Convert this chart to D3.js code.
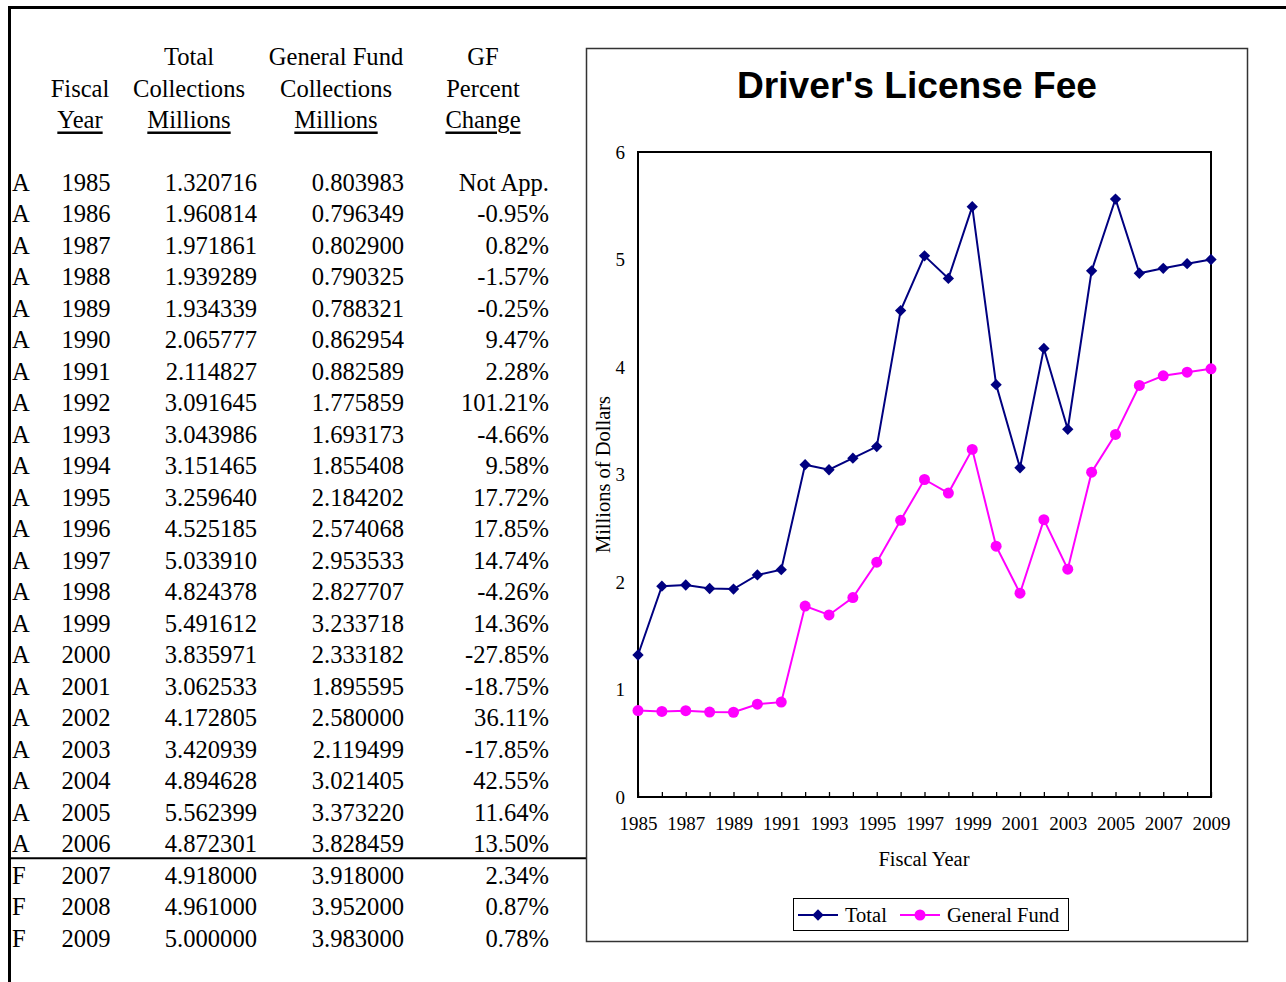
<!DOCTYPE html>
<html>
<head>
<meta charset="utf-8">
<script src="https://cdn.jsdelivr.net/npm/d3@7"></script>
<style>
  body { margin: 0; background: #fff; }
  svg { display: block; }
</style>
</head>
<body>
<svg id="page" width="1286" height="982"></svg>
<script>
const years = [1985, 1986, 1987, 1988, 1989, 1990, 1991, 1992, 1993, 1994, 1995, 1996,
  1997, 1998, 1999, 2000, 2001, 2002, 2003, 2004, 2005, 2006, 2007, 2008, 2009];
const status = ["A", "A", "A", "A", "A", "A", "A", "A", "A", "A", "A", "A",
  "A", "A", "A", "A", "A", "A", "A", "A", "A", "A", "F", "F", "F"];
const totalCollections = [1.320716, 1.960814, 1.971861, 1.939289, 1.934339, 2.065777,
  2.114827, 3.091645, 3.043986, 3.151465, 3.259640, 4.525185, 5.033910, 4.824378,
  5.491612, 3.835971, 3.062533, 4.172805, 3.420939, 4.894628, 5.562399, 4.872301,
  4.918000, 4.961000, 5.000000];
const gfCollections = [0.803983, 0.796349, 0.802900, 0.790325, 0.788321, 0.862954,
  0.882589, 1.775859, 1.693173, 1.855408, 2.184202, 2.574068, 2.953533, 2.827707,
  3.233718, 2.333182, 1.895595, 2.580000, 2.119499, 3.021405, 3.373220, 3.828459,
  3.918000, 3.952000, 3.983000];
const gfPctChange = ["Not App.", "-0.95%", "0.82%", "-1.57%", "-0.25%", "9.47%", "2.28%",
  "101.21%", "-4.66%", "9.58%", "17.72%", "17.85%", "14.74%", "-4.26%", "14.36%",
  "-27.85%", "-18.75%", "36.11%", "-17.85%", "42.55%", "11.64%", "13.50%", "2.34%",
  "0.87%", "0.78%"];
const yTicks = [0, 1, 2, 3, 4, 5, 6];
const xLabelYears = years.filter((y) => (y - 1985) % 2 === 0);

const svg = d3.select("#page");
const serif = "'Liberation Serif', 'Times New Roman', serif";
const sans = "'Liberation Sans', Arial, sans-serif";

// page frame (thick top and left rules)
svg.append("line").attr("x1", 8).attr("x2", 1286).attr("y1", 7.5).attr("y2", 7.5)
  .attr("stroke", "#000").attr("stroke-width", 3);
svg.append("line").attr("x1", 9.5).attr("x2", 9.5).attr("y1", 6).attr("y2", 982)
  .attr("stroke", "#000").attr("stroke-width", 3);

// ---------- table ----------
const table = svg.append("g").attr("font-family", serif).attr("font-size", 24.6).attr("fill", "#000");
const rowY = d3.scaleLinear().domain([0, years.length - 1]).range([182, 938]);

const headers = [
  { x: 80, lines: ["", "Fiscal", "Year"] },
  { x: 189, lines: ["Total", "Collections", "Millions"] },
  { x: 336, lines: ["General Fund", "Collections", "Millions"] },
  { x: 483, lines: ["GF", "Percent", "Change"] },
];
const headY = [56, 88, 119];
headers.forEach((h) => {
  h.lines.forEach((t, i) => {
    if (!t) return;
    table.append("text")
      .attr("x", h.x).attr("y", headY[i])
      .attr("dominant-baseline", "central")
      .attr("text-anchor", "middle")
      .attr("text-decoration", i === 2 ? "underline" : null)
      .text(t);
  });
});

const rows = table.selectAll(".row").data(years).join("g").attr("class", "row")
  .attr("transform", (d, i) => `translate(0,${rowY(i)})`);
rows.append("text").attr("x", 12).attr("dominant-baseline", "central").text((d, i) => status[i]);
rows.append("text").attr("x", 86).attr("text-anchor", "middle").attr("dominant-baseline", "central").text((d) => d);
rows.append("text").attr("x", 257).attr("text-anchor", "end").attr("dominant-baseline", "central")
  .text((d, i) => totalCollections[i].toFixed(6));
rows.append("text").attr("x", 404).attr("text-anchor", "end").attr("dominant-baseline", "central")
  .text((d, i) => gfCollections[i].toFixed(6));
rows.append("text").attr("x", 549).attr("text-anchor", "end").attr("dominant-baseline", "central")
  .text((d, i) => gfPctChange[i]);

// actual / forecast separator
const sepY = (rowY(21) + rowY(22)) / 2 - 1;
svg.append("line").attr("x1", 10).attr("x2", 586).attr("y1", sepY).attr("y2", sepY)
  .attr("stroke", "#000").attr("stroke-width", 2);

// ---------- chart ----------
svg.append("rect").attr("x", 586.5).attr("y", 48.5).attr("width", 661).attr("height", 893)
  .attr("fill", "#fff").attr("stroke", "#333").attr("stroke-width", 1.5);

svg.append("text").attr("x", 917).attr("y", 98)
  .attr("text-anchor", "middle").attr("font-family", sans).attr("font-weight", "bold")
  .attr("font-size", 36).attr("textLength", 360).attr("lengthAdjust", "spacingAndGlyphs")
  .text("Driver's License Fee");

const plot = { left: 638, right: 1211, top: 152, bottom: 797 };
const x = d3.scaleLinear().domain([1985, 2009]).range([plot.left, plot.right]);
const y = d3.scaleLinear().domain([0, 6]).range([plot.bottom, plot.top]);

svg.append("g")
  .attr("transform", `translate(0,${plot.bottom})`)
  .call(d3.axisBottom(x).tickValues(years).tickSize(-5).tickPadding(20)
    .tickFormat((d) => (xLabelYears.includes(d) ? d : "")))
  .attr("font-family", serif)
  .attr("font-size", 19)
  .call((g) => g.select(".domain").remove())
  .call((g) => g.selectAll(".tick line").attr("stroke", "#000").attr("stroke-width", 1.3))
  .call((g) => g.selectAll(".tick text").attr("fill", "#000"));

svg.append("g")
  .attr("transform", `translate(${plot.left},0)`)
  .call(d3.axisLeft(y).tickValues(yTicks).tickSize(0).tickPadding(13).tickFormat(d3.format("d")))
  .attr("font-family", serif)
  .attr("font-size", 19)
  .call((g) => g.select(".domain").remove())
  .call((g) => g.selectAll(".tick text").attr("fill", "#000"));

svg.append("rect").attr("x", plot.left).attr("y", plot.top)
  .attr("width", plot.right - plot.left).attr("height", plot.bottom - plot.top)
  .attr("fill", "none").attr("stroke", "#000").attr("stroke-width", 2);

svg.append("text").attr("transform", `translate(603,${(plot.top + plot.bottom) / 2}) rotate(-90)`)
  .attr("text-anchor", "middle").attr("dominant-baseline", "central")
  .attr("font-family", serif).attr("font-size", 20.5).text("Millions of Dollars");

svg.append("text").attr("x", 924).attr("y", 859)
  .attr("text-anchor", "middle").attr("dominant-baseline", "central")
  .attr("font-family", serif).attr("font-size", 20.5).text("Fiscal Year");

const series = [
  { name: "Total", values: totalCollections, color: "#000080", shape: d3.symbolSquare, size: 64, rot: 45 },
  { name: "General Fund", values: gfCollections, color: "#FF00FF", shape: d3.symbolCircle, size: 95, rot: 0 },
];
const line = d3.line().x((d, i) => x(years[i])).y((d) => y(d));

series.slice().reverse().forEach((s) => {
  svg.append("path").datum(s.values).attr("d", line)
    .attr("fill", "none").attr("stroke", s.color).attr("stroke-width", 2);
  svg.append("g").selectAll("path").data(s.values).join("path")
    .attr("transform", (d, i) => `translate(${x(years[i])},${y(d)}) rotate(${s.rot})`)
    .attr("d", d3.symbol().type(s.shape).size(s.size))
    .attr("fill", s.color);
});

// legend
const legend = svg.append("g");
legend.append("rect").attr("x", 793.5).attr("y", 898.5).attr("width", 275).attr("height", 32)
  .attr("fill", "#fff").attr("stroke", "#000").attr("stroke-width", 1);
const legendX = [798, 900];
series.forEach((s, i) => {
  const g = legend.append("g").attr("transform", `translate(${legendX[i]},915)`);
  g.append("line").attr("x1", 0).attr("x2", 40).attr("stroke", s.color).attr("stroke-width", 2);
  g.append("path").attr("transform", `translate(20,0) rotate(${s.rot})`)
    .attr("d", d3.symbol().type(s.shape).size(s.size))
    .attr("fill", s.color);
  g.append("text").attr("x", 47).attr("dominant-baseline", "central")
    .attr("font-family", serif).attr("font-size", 20.5).text(s.name);
});
</script>
</body>
</html>
